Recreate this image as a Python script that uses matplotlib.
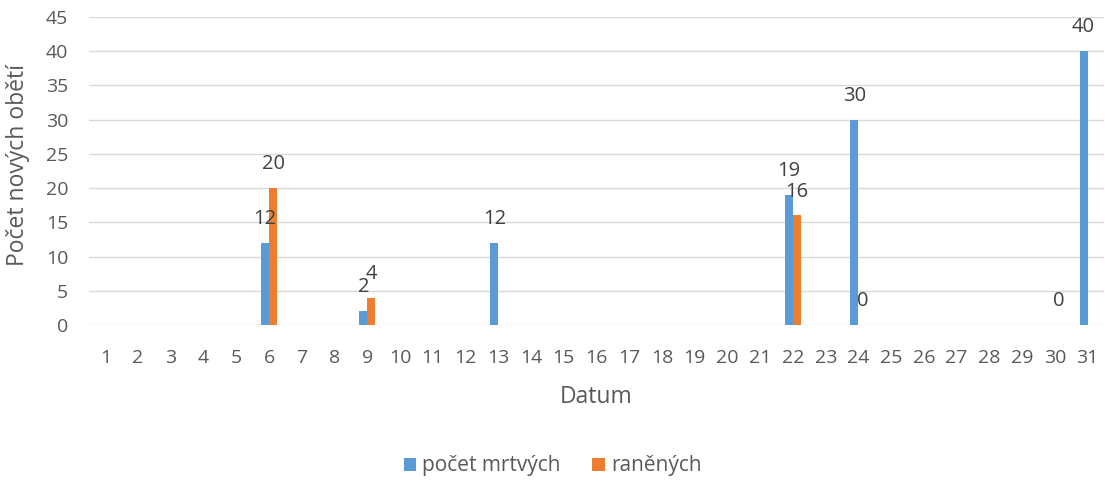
import numpy as np
import matplotlib
matplotlib.use("Agg")
import matplotlib.pyplot as plt

nan = np.nan

# data
dny = list(range(1, 32))
pocet_mrtvych = [nan, nan, nan, nan, nan, 12, nan, nan, 2, nan,
                 nan, nan, 12, nan, nan, nan, nan, nan, nan, nan,
                 nan, 19, nan, 30, nan, nan, nan, nan, nan, nan, 40]
ranenych = [nan, nan, nan, nan, nan, 20, nan, nan, 4, nan,
            nan, nan, nan, nan, nan, nan, nan, nan, nan, nan,
            nan, 16, nan, 0, nan, nan, nan, nan, nan, 0, nan]

plt.rcParams['font.family'] = ['Open Sans', 'DejaVu Sans']

blue = '#5B9BD5'
orange = '#ED7D31'
txt = '#595959'

fig = plt.figure(figsize=(11.05, 4.82), dpi=100)
ax = fig.add_axes([89/1105, 1-325/482, 1015/1105, 308/482])

x = np.array(dny, dtype=float)
w = 0.245
ax.bar(x - w/2, pocet_mrtvych, width=w, color=blue, label='počet mrtvých', zorder=3)
ax.bar(x + w/2, ranenych, width=w, color=orange, label='raněných', zorder=3)

#data labels
for xs, vals in [(x - w/2, pocet_mrtvych), (x + w/2, ranenych)]:
    for xi, v in zip(xs, vals):
        if np.isnan(v):
            continue
        ax.annotate(str(int(v)), (xi, v), xytext=(0, 10), textcoords='offset points',
                    ha='center', va='bottom', fontsize=14.5, color='#404040')

ax.set_xlim(0.5, 31.5)
ax.set_ylim(0, 45)
ax.set_yticks(range(0, 46, 5))
ax.set_xticks(x)
ax.set_xticklabels([str(d) for d in dny])
ax.grid(axis='y', color='#D9D9D9', linewidth=1, zorder=0)
for s in ax.spines.values():
    s.set_visible(False)
ax.tick_params(axis='both', length=0, colors=txt, labelsize=14)
ax.tick_params(axis='x', pad=17)
ax.tick_params(axis='y', pad=15)

ax.set_ylabel('Počet nových obětí', fontsize=16.5, color=txt, va='center')
ax.yaxis.set_label_coords(-0.07, 0.52)
ax.set_xlabel('Datum', fontsize=16.5, color=txt, va='center')
ax.xaxis.set_label_coords(0.5, -0.234)

fig.legend(loc='center', bbox_to_anchor=(0.5, 1-466/482), ncol=2, frameon=False,
           fontsize=15, handlelength=0.6, handleheight=0.6, handletextpad=0.3,
           columnspacing=1.5, labelcolor=txt)

fig.savefig('out.png', dpi=100)
